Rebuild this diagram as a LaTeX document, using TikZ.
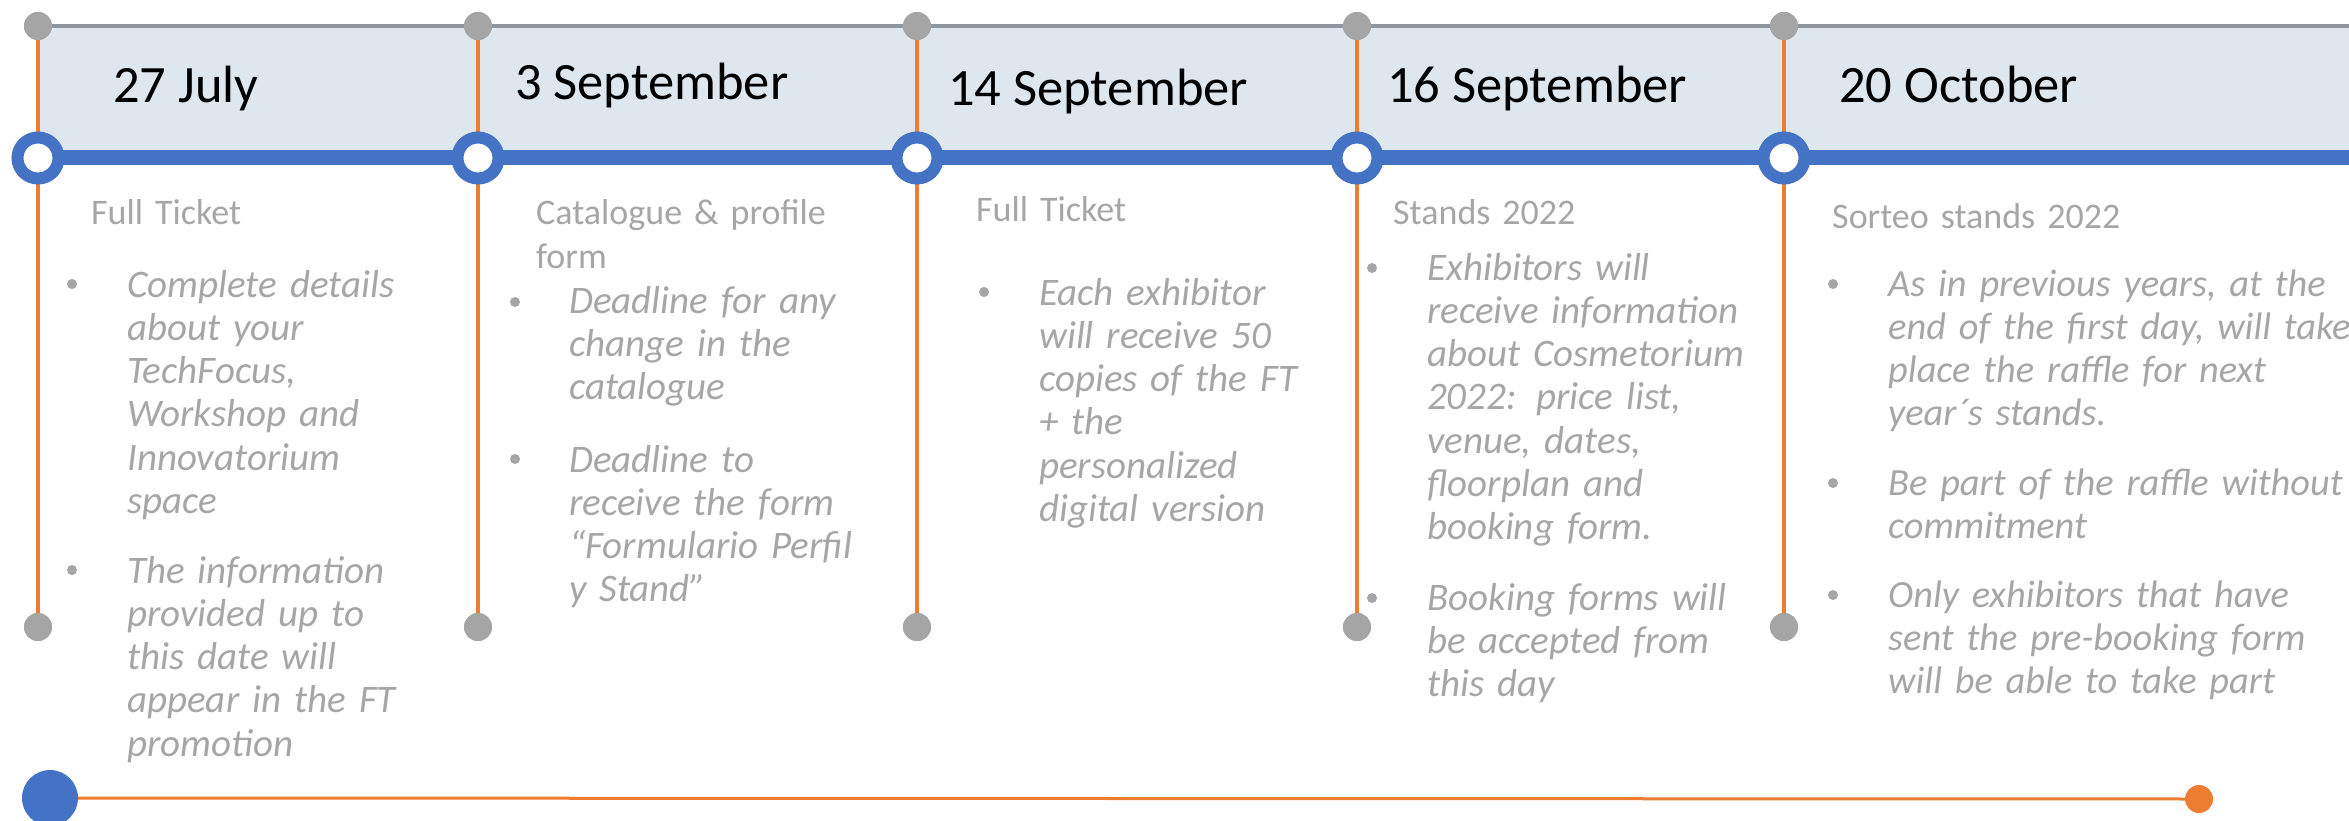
\documentclass[tikz,border=0pt]{standalone}
\usepackage{fontspec}
\setmainfont{Carlito}
\definecolor{bandfill}{HTML}{DEE6EE}
\definecolor{topline}{HTML}{8E979F}
\definecolor{tlblue}{HTML}{4472C4}
\definecolor{tlorange}{HTML}{ED7D31}
\definecolor{dotgray}{HTML}{A5A5A5}
\definecolor{txtgray}{HTML}{A6A6A6}
\tikzset{
  graydot/.style={circle,fill=dotgray,draw=none,minimum size=28pt,inner sep=0pt},
  ring/.style={circle,draw=tlblue,line width=12pt,fill=white,minimum size=41pt,inner sep=0pt},
  datetxt/.style={anchor=base west,inner sep=0pt,font=\fontsize{52.5}{60}\selectfont,text=black},
  subtxt/.style={anchor=base west,inner sep=0pt,text width=700pt,align=left,font=\fontsize{36}{43.3}\selectfont,text=txtgray},
  bodytxt/.style={anchor=base west,inner sep=0pt,text width=700pt,align=left,font=\fontsize{39}{43.3}\selectfont\itshape,text=txtgray},
  bodysmall/.style={bodytxt,font=\fontsize{38.4}{43.3}\selectfont\itshape},
  bul/.style={circle,fill=txtgray,draw=none,minimum size=10pt,inner sep=0pt},
  vline/.style={draw=tlorange,line width=3.3pt},
}
\begin{document}
\begin{tikzpicture}[x=1pt,y=-1pt]
\useasboundingbox (0,0) rectangle (2349,821);
% band
\fill[bandfill] (38,26) rectangle (2349,158);
% nodes
\foreach \i/\x in {1/38,2/478,3/917,4/1357,5/1784}{
  \node[graydot] (t\i) at (\x,26) {};
  \node[graydot] (b\i) at (\x,627) {};
  \coordinate (r\i) at (\x,158);
}
\coordinate (tend) at (2349,26);
\coordinate (bend) at (2349,158);
\draw[topline,line width=4pt] (t1.center) -- (tend);
\foreach \i in {1,...,5}{ \draw[vline] (t\i.center) -- (b\i.center); }
\draw[tlblue,line width=15pt] (r1) -- (bend);
\foreach \i in {1,...,5}{
  \node[ring] (ring\i) at (r\i) {};
  \node[graydot] at (t\i) {};
  \node[graydot] at (b\i) {};
}
% bottom line
\node[circle,fill=tlblue,minimum size=56pt,inner sep=0pt] (bstart) at (50,798) {};
\node[circle,fill=tlorange,minimum size=28pt,inner sep=0pt] (bstop) at (2199,799) {};
\draw[tlorange,line width=3pt] (bstart) -- (bstop);
% dates
\node[datetxt] (d1) at (113,103) {27 July};
\node[datetxt] (d2) at (515,100) {3 September};
\node[datetxt] (d3) at (948,106) {14 September};
\node[datetxt] (d4) at (1387,103) {16 September};
\node[datetxt] (d5) at (1839,103) {20 October};
% column 1
\node[subtxt] (s1) at (91,224) {Full Ticket};
\node[bul] (p11) at (72,284) {};
\node[bodytxt] (c11) at (127,297) {Complete details\\about your\\TechFocus,\\Workshop and\\Innovatorium\\space};
\node[bul] (p12) at (72,570) {};
\node[bodytxt] (c12) at (127,583) {The information\\provided up to\\this date will\\appear in the FT\\promotion};
% column 2
\node[subtxt] (s2) at (536,225) {Catalogue \& profile\\form};
\node[bul] (p21) at (515,302) {};
\node[bodytxt] (c21) at (569,313) {Deadline for any\\change in the\\catalogue};
\node[bul] (p22) at (515,459) {};
\node[bodytxt] (c22) at (569,472) {Deadline to\\receive the form\\“Formulario Perfil\\y Stand”};
% column 3
\node[subtxt] (s3) at (976,222) {Full Ticket};
\node[bul] (p31) at (984,292) {};
\node[bodytxt] (c31) at (1039,305) {Each exhibitor\\will receive 50\\copies of the FT\\+ the\\personalized\\digital version};
% column 4
\node[subtxt] (s4) at (1393,225) {Stands 2022};
\node[bul] (p41) at (1372,268) {};
\node[bodytxt] (c41) at (1427,280) {Exhibitors will\\receive information\\about Cosmetorium\\2022: price list,\\venue, dates,\\floorplan and\\booking form.};
\node[bul] (p42) at (1372,598) {};
\node[bodytxt] (c42) at (1427,610) {Booking forms will\\be accepted from\\this day};
% column 5
\node[subtxt] (s5) at (1832,229) {Sorteo stands 2022};
\node[bul] (p51) at (1833,284) {};
\node[bodysmall] (c51) at (1888,296) {As in previous years, at the\\end of the first day, will take\\place the raffle for next\\year´s stands.};
\node[bul] (p52) at (1833,483) {};
\node[bodysmall] (c52) at (1888,495) {Be part of the raffle without\\commitment};
\node[bul] (p53) at (1833,595) {};
\node[bodysmall] (c53) at (1888,607) {Only exhibitors that have\\sent the pre-booking form\\will be able to take part};
\end{tikzpicture}
\end{document}
